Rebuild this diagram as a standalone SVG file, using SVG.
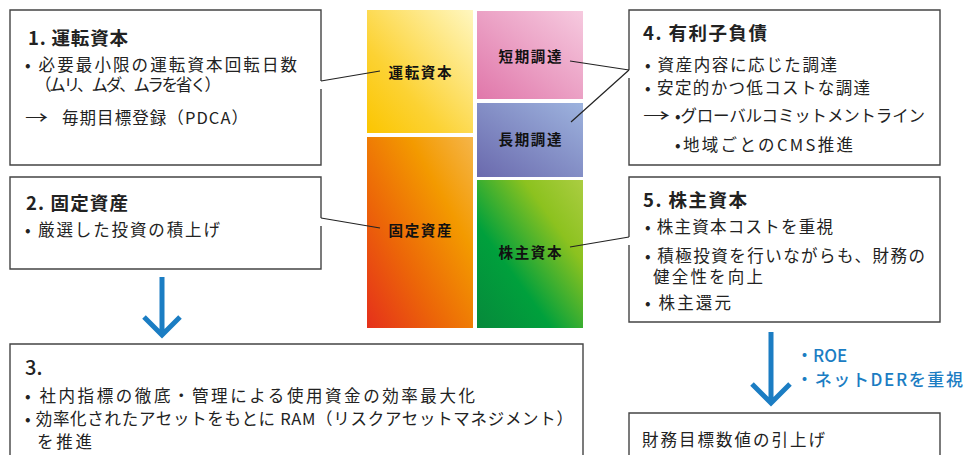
<svg xmlns="http://www.w3.org/2000/svg" width="965" height="455" viewBox="0 0 965 455">
<defs>
<linearGradient id="gY" x1="0" y1="1" x2="1" y2="0"><stop offset="0" stop-color="#fbc500"/><stop offset="0.35" stop-color="#fcd233"/><stop offset="1" stop-color="#fff7c0"/></linearGradient>
<linearGradient id="gO" x1="0" y1="1" x2="1" y2="0"><stop offset="0" stop-color="#e5301b"/><stop offset="0.35" stop-color="#ec6608"/><stop offset="0.7" stop-color="#f39a00"/><stop offset="1" stop-color="#f5b54a"/></linearGradient>
<linearGradient id="gP" x1="0" y1="1" x2="1" y2="0"><stop offset="0" stop-color="#e077aa"/><stop offset="1" stop-color="#f6cadf"/></linearGradient>
<linearGradient id="gB" x1="0" y1="1" x2="1" y2="0"><stop offset="0" stop-color="#6a69ad"/><stop offset="1" stop-color="#9db3de"/></linearGradient>
<linearGradient id="gG" x1="0" y1="1" x2="1" y2="0"><stop offset="0" stop-color="#07893b"/><stop offset="0.35" stop-color="#00a03c"/><stop offset="0.72" stop-color="#8cc21f"/><stop offset="1" stop-color="#abcd42"/></linearGradient>
</defs>
<style>
text{font-family:"Noto Sans CJK JP","Noto Sans",sans-serif;fill:#222}
.b{font-size:16.5px}
.t{font-size:18.5px;font-weight:bold}
.c{font-size:14.5px;font-weight:bold;text-anchor:middle;fill:#111}
.box{fill:none;stroke:#444;stroke-width:1.4}
.con{stroke:#222;stroke-width:1.2;fill:none}
.arr{stroke:#1b7dc3;stroke-width:5;fill:none}
.blue{fill:#1b7dc3;font-size:17px;font-weight:500}
</style>

<g id="block-working-capital"><rect x="367" y="10" width="106" height="123" fill="url(#gY)"/><text class="c" x="420" y="78" textLength="63">運転資本</text></g>
<g id="block-fixed-assets"><rect x="367" y="137" width="106" height="191" fill="url(#gO)"/><text class="c" x="420" y="236" textLength="63">固定資産</text></g>
<g id="block-short-term"><rect x="477" y="11" width="106" height="88" fill="url(#gP)"/><text class="c" x="530" y="62" textLength="63">短期調達</text></g>
<g id="block-long-term"><rect x="477" y="103" width="106" height="74" fill="url(#gB)"/><text class="c" x="530" y="145" textLength="63">長期調達</text></g>
<g id="block-equity"><rect x="477" y="180" width="106" height="148" fill="url(#gG)"/><text class="c" x="530" y="258" textLength="63">株主資本</text></g>

<g id="box1">
<path class="box" d="M321,81 V10 H10 V165 H321 V89"/>
<text class="t" x="28" y="45" textLength="100">1. 運転資本</text>
<text class="b" x="25" y="71" textLength="272">• 必要最小限の運転資本回転日数</text>
<text class="b" x="35" y="91" textLength="186">（ムリ、ムダ、ムラを省く）</text>
<text class="b" x="25" y="124" textLength="23" lengthAdjust="spacingAndGlyphs">→</text>
<text class="b" x="62" y="124" textLength="186">毎期目標登録（PDCA）</text>
</g>

<g id="box2">
<path class="box" d="M321,218 V177 H10 V269 H321 V226"/>
<text class="t" x="26" y="210" textLength="102">2. 固定資産</text>
<text class="b" x="25" y="236" textLength="195">• 厳選した投資の積上げ</text>
</g>

<g id="box3">
<path class="box" d="M10,456 V344 H583 V456"/>
<text x="25" y="375" style="font-size:20px;font-weight:500">3.</text>
<text class="b" x="25" y="402" textLength="450">• 社内指標の徹底・管理による使用資金の効率最大化</text>
<text class="b" x="25" y="425" textLength="548">• 効率化されたアセットをもとに RAM（リスクアセットマネジメント）</text>
<text class="b" x="37" y="448" textLength="55">を推進</text>
</g>

<g id="box4">
<path class="box" d="M629,70 V10 H940 V165 H629 V78"/>
<text class="t" x="643" y="40" textLength="124">4. 有利子負債</text>
<text class="b" x="645" y="71" textLength="192">• 資産内容に応じた調達</text>
<text class="b" x="645" y="94" textLength="225">• 安定的かつ低コストな調達</text>
<text class="b" x="643" y="122" textLength="27" lengthAdjust="spacingAndGlyphs">→</text>
<text class="b" x="675" y="122" textLength="250">•グローバルコミットメントライン</text>
<text class="b" x="675" y="151" textLength="178">•地域ごとのCMS推進</text>
</g>

<g id="box5">
<path class="box" d="M629,237 V177 H940 V322 H629 V245"/>
<text class="t" x="643" y="207" textLength="104">5. 株主資本</text>
<text class="b" x="645" y="233" textLength="188">• 株主資本コストを重視</text>
<text class="b" x="645" y="262" textLength="280">• 積極投資を行いながらも、財務の</text>
<text class="b" x="653" y="283" textLength="110">健全性を向上</text>
<text class="b" x="645" y="309" textLength="86">• 株主還元</text>
</g>

<g id="box6">
<path class="box" d="M629,456 V413 H940 V456"/>
<text class="b" x="642" y="446" textLength="183">財務目標数値の引上げ</text>
</g>

<g id="connectors">
<line class="con" x1="321" y1="81" x2="380" y2="71"/>
<line class="con" x1="321" y1="218" x2="380" y2="228"/>
<line class="con" x1="629" y1="70" x2="570" y2="61"/>
<line class="con" x1="629" y1="70" x2="571" y2="122"/>
<line class="con" x1="629" y1="237" x2="570" y2="247"/>
<path class="arr" d="M162,277 V334 M144,317 L162,335 L180,317"/>
<path class="arr" d="M771,332 V403 M752,384 L771,403 L790,384"/>
</g>

<g id="note">
<text class="blue" x="796" y="362">・ROE</text>
<text class="blue" x="796" y="386" textLength="167">・ネットDERを重視</text>
</g>
</svg>
